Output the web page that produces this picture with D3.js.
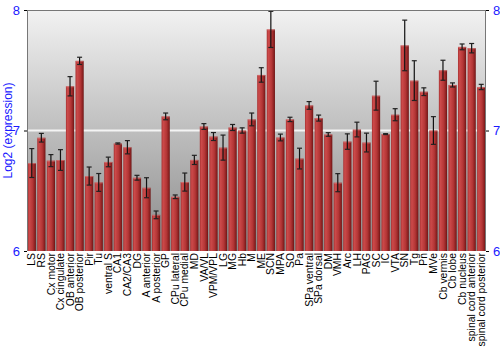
<!DOCTYPE html>
<html>
<head>
<meta charset="utf-8">
<script src="https://cdn.jsdelivr.net/npm/d3@7"></script>
<style>
  body { margin: 0; background: #fff; }
  svg { font-family: "Liberation Sans", Arial, sans-serif; }
</style>
</head>
<body>
<div id="chart"></div>
<script>
var regions = ["LS", "RS", "Cx motor", "Cx cingulate", "OB anterior", "OB posterior", "Pir", "Tu",
  "ventral S", "CA1", "CA2/CA3", "DG", "A anterior", "A posterior", "GP", "CPu lateral", "CPu medial",
  "MD", "VA/VL", "VPM/VPL", "LG", "MG", "Hb", "M", "ME", "SCN", "MPA", "SO", "Pa", "SPa ventral",
  "SPa dorsal", "DM", "VMH", "Arc", "LH", "PAG", "SC", "IC", "VTA", "SN", "Tg", "Pn", "MVe",
  "Cb vermis", "Cb lobe", "Cb nucleus", "spinal cord anterior", "spinal cord posterior"];

var expression = [6.73, 6.94, 6.75, 6.755, 7.367, 7.578, 6.622, 6.569,
  6.739, 6.892, 6.861, 6.608, 6.525, 6.30, 7.117, 6.45, 6.572,
  6.756, 7.033, 6.95, 6.858, 7.025, 7.0, 7.092, 7.461, 7.839, 6.942, 7.092, 6.767, 7.208,
  7.103, 6.967, 6.567, 6.908, 7.008, 6.90, 7.289, 6.97, 7.131, 7.706, 7.414, 7.322, 7.0,
  7.50, 7.378, 7.694, 7.683, 7.361];

var errors = [0.12, 0.036, 0.05, 0.086, 0.08, 0.03, 0.075, 0.074,
  0.04, 0.005, 0.055, 0.02, 0.083, 0.032, 0.028, 0.015, 0.075,
  0.038, 0.024, 0.033, 0.104, 0.025, 0.022, 0.053, 0.06, 0.15, 0.028, 0.018, 0.086, 0.032,
  0.025, 0.015, 0.075, 0.064, 0.061, 0.078, 0.12, 0.004, 0.05, 0.21, 0.165, 0.032, 0.115,
  0.083, 0.017, 0.024, 0.039, 0.022];

var yTicks = [6, 7, 8];

var margin = {top: 10, right: 14, bottom: 99, left: 27};
var width = 500 - margin.left - margin.right;
var height = 350 - margin.top - margin.bottom;

var svg = d3.select("#chart").append("svg")
  .attr("width", 500)
  .attr("height", 350);

var defs = svg.append("defs");
var bg = defs.append("linearGradient").attr("id", "bg")
  .attr("x1", 0).attr("y1", 0).attr("x2", 0).attr("y2", 1);
bg.append("stop").attr("offset", "0%").attr("stop-color", "#f2f2f2");
bg.append("stop").attr("offset", "100%").attr("stop-color", "#8a8a8a");

var barGrad = defs.append("linearGradient").attr("id", "bar")
  .attr("x1", 0).attr("y1", 0).attr("x2", 1).attr("y2", 0);
barGrad.append("stop").attr("offset", "0%").attr("stop-color", "#a83232");
barGrad.append("stop").attr("offset", "20%").attr("stop-color", "#cc4a4a");
barGrad.append("stop").attr("offset", "60%").attr("stop-color", "#b43636");
barGrad.append("stop").attr("offset", "85%").attr("stop-color", "#8e2222");
barGrad.append("stop").attr("offset", "100%").attr("stop-color", "#6a1414");

var x = d3.scaleBand().domain(regions).range([0, width]).paddingInner(0.14).paddingOuter(0.07);
var y = d3.scaleLinear().domain([6, 8]).range([height, 0]);

var g = svg.append("g").attr("transform", "translate(" + margin.left + "," + margin.top + ")");

g.append("rect")
  .attr("width", width)
  .attr("height", height)
  .attr("fill", "url(#bg)");

// gridline at 7
g.append("line")
  .attr("x1", 0).attr("x2", width)
  .attr("y1", y(7)).attr("y2", y(7))
  .attr("stroke", "#f4f4f4")
  .attr("stroke-width", 2);

var bars = g.selectAll(".bar")
  .data(regions)
  .enter().append("g")
  .attr("class", "bar");

bars.append("rect")
  .attr("x", function(d) { return x(d); })
  .attr("y", function(d, i) { return y(expression[i]); })
  .attr("width", x.bandwidth())
  .attr("height", function(d, i) { return height - y(expression[i]); })
  .attr("fill", "url(#bar)");

// light cap on top of bars
bars.append("rect")
  .attr("x", function(d) { return x(d); })
  .attr("y", function(d, i) { return y(expression[i]); })
  .attr("width", x.bandwidth())
  .attr("height", 1)
  .attr("fill", "#d88080")
  .attr("opacity", 0.6);

// error bars
var cx = function(d) { return x(d) + x.bandwidth() / 2; };
bars.append("line")
  .attr("x1", cx).attr("x2", cx)
  .attr("y1", function(d, i) { return y(expression[i] + errors[i]); })
  .attr("y2", function(d, i) { return y(expression[i] - errors[i]); })
  .attr("stroke", "#111")
  .attr("stroke-width", 1.2);
[1, -1].forEach(function(s) {
  bars.append("line")
    .attr("x1", function(d) { return cx(d) - 2.5; })
    .attr("x2", function(d) { return cx(d) + 2.5; })
    .attr("y1", function(d, i) { return y(expression[i] + s * errors[i]); })
    .attr("y2", function(d, i) { return y(expression[i] + s * errors[i]); })
    .attr("stroke", "#222")
    .attr("stroke-width", 1.2);
});

// frame: top, left, right
g.append("line").attr("x1", 0).attr("x2", width).attr("y1", 0.5).attr("y2", 0.5)
  .attr("stroke", "#777");
g.append("line").attr("x1", 0.5).attr("x2", 0.5).attr("y1", 0).attr("y2", height)
  .attr("stroke", "#777");
g.append("line").attr("x1", width - 0.5).attr("x2", width - 0.5).attr("y1", 0).attr("y2", height)
  .attr("stroke", "#777");

var leftAxis = g.append("g")
  .call(d3.axisLeft(y).tickValues(yTicks).tickSize(3).tickPadding(4).tickFormat(d3.format("d")));
var rightAxis = g.append("g")
  .attr("transform", "translate(" + width + ",0)")
  .call(d3.axisRight(y).tickValues(yTicks).tickSize(3).tickPadding(4).tickFormat(d3.format("d")));
[leftAxis, rightAxis].forEach(function(a) {
  a.select(".domain").remove();
  a.selectAll(".tick line").attr("stroke", "#000");
  a.selectAll(".tick text").attr("fill", "#1a1aff").style("font-size", "13px");
});

var xAxis = g.append("g")
  .attr("transform", "translate(0," + height + ")")
  .call(d3.axisBottom(x).tickSize(0).tickPadding(0));
xAxis.select(".domain").remove();
xAxis.selectAll(".tick text")
  .attr("transform", "rotate(-90)")
  .attr("x", -2)
  .attr("y", 0)
  .attr("dy", "0.35em")
  .style("text-anchor", "end")
  .style("font-size", "10.4px")
  .attr("fill", "#000");

svg.append("text")
  .attr("transform", "rotate(-90)")
  .attr("x", -(margin.top + height / 2))
  .attr("y", 12)
  .style("text-anchor", "middle")
  .style("font-size", "12px")
  .attr("fill", "#1a1aff")
  .text("Log2 (expression)");
</script>
</body>
</html>
